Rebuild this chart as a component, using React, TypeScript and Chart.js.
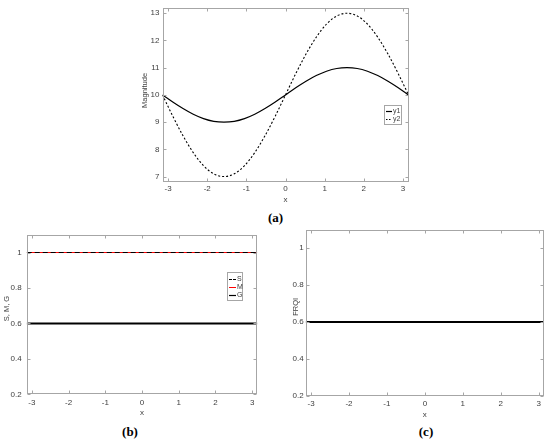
import React, { useEffect, useRef } from "react";
import { Chart, registerables } from "chart.js";

Chart.register(...registerables);

// ---------- data ----------
const X_ANGLE = [
  -3.1416, -2.8798, -2.618, -2.3562, -2.0944, -1.8326, -1.5708, -1.309, -1.0472,
  -0.7854, -0.5236, -0.2618, 0, 0.2618, 0.5236, 0.7854, 1.0472, 1.309, 1.5708,
  1.8326, 2.0944, 2.3562, 2.618, 2.8798, 3.1416,
];
const Y1_VALUES = [
  10, 9.74, 9.5, 9.29, 9.13, 9.03, 9, 9.03, 9.13, 9.29, 9.5, 9.74, 10, 10.26,
  10.5, 10.71, 10.87, 10.97, 11, 10.97, 10.87, 10.71, 10.5, 10.26, 10,
];
const Y2_VALUES = [
  10, 9.22, 8.5, 7.88, 7.4, 7.1, 7, 7.1, 7.4, 7.88, 8.5, 9.22, 10, 10.78, 11.5,
  12.12, 12.6, 12.9, 13, 12.9, 12.6, 12.12, 11.5, 10.78, 10,
];
const X_FLAT = [-3.1416, 3.1416];
const S_VALUES = [1, 1];
const M_VALUES = [1, 1];
const G_VALUES = [0.6, 0.6];
const FRQI_VALUES = [0.6, 0.6];

const X_TICKS = [-3, -2, -1, 0, 1, 2, 3];
const Y_TICKS_A = [7, 8, 9, 10, 11, 12, 13];
const Y_TICKS_BC = [0.2, 0.4, 0.6, 0.8, 1];
const X_LIMITS = [-3.1416, 3.1416];
const Y_LIMITS_A = [6.8, 13.2];
const Y_LIMITS_BC = [0.2, 1.1];

// ---------- styling ----------
const FONT = "'Liberation Sans', Arial, sans-serif";
const LABEL_COLOR = "#404040";
const FRAME_COLOR = "#a6a6a6";

const pts = (xs: number[], ys: number[]) => xs.map((x, i) => ({ x, y: ys[i] }));

const matlabFrame = {
  id: "matlabFrame",
  afterDraw(chart: any, _args: any, opts: any) {
    const { ctx, chartArea: a, scales } = chart;
    const x = scales.x;
    const y = scales.y;
    ctx.save();
    ctx.strokeStyle = FRAME_COLOR;
    ctx.lineWidth = 1;
    ctx.setLineDash([]);
    const L = Math.round(a.left) + 0.5;
    const R = Math.round(a.right) - 0.5;
    const T = Math.round(a.top) + 0.5;
    const B = Math.round(a.bottom) - 0.5;
    ctx.strokeRect(L, T, R - L, B - T);
    const len = 3;
    ctx.beginPath();
    x.ticks.forEach((t: any) => {
      const p = Math.round(x.getPixelForValue(t.value)) + 0.5;
      ctx.moveTo(p, B);
      ctx.lineTo(p, B - len);
      ctx.moveTo(p, T);
      ctx.lineTo(p, T + len);
    });
    y.ticks.forEach((t: any) => {
      const p = Math.round(y.getPixelForValue(t.value)) + 0.5;
      ctx.moveTo(L, p);
      ctx.lineTo(L + len, p);
      ctx.moveTo(R, p);
      ctx.lineTo(R - len, p);
    });
    ctx.stroke();

    // y-axis title (MATLAB ylabel)
    const yt = opts && opts.yTitle;
    if (yt) {
      ctx.save();
      ctx.translate(yt.x, (a.top + a.bottom) / 2 + yt.dy);
      ctx.rotate(-Math.PI / 2);
      ctx.font = `${yt.size}px ${FONT}`;
      ctx.fillStyle = LABEL_COLOR;
      ctx.textAlign = "center";
      ctx.textBaseline = "middle";
      ctx.fillText(yt.text, 0, 0);
      ctx.restore();
    }

    const lg = opts && opts.legend;
    if (lg) {
      const ds = chart.data.datasets;
      const h = lg.rowH * ds.length + lg.pad * 2;
      const bx = Math.round(a.right - lg.right - lg.width);
      const by = Math.round(a.top + lg.top);
      ctx.fillStyle = "#ffffff";
      ctx.fillRect(bx, by, lg.width, h);
      ctx.strokeStyle = FRAME_COLOR;
      ctx.strokeRect(bx + 0.5, by + 0.5, lg.width - 1, h - 1);
      ctx.font = `${lg.fontSize}px ${FONT}`;
      ctx.textBaseline = "middle";
      ctx.textAlign = "left";
      ds.forEach((d: any, i: number) => {
        const cy = Math.round(by + lg.pad + lg.rowH * (i + 0.5)) + 0.5;
        ctx.strokeStyle = d.borderColor;
        ctx.lineWidth = Math.min(d.borderWidth, 1.2);
        ctx.setLineDash(d.legendDash || []);
        ctx.beginPath();
        ctx.moveTo(bx + 2, cy);
        ctx.lineTo(bx + 2 + lg.sample, cy);
        ctx.stroke();
        ctx.setLineDash([]);
        ctx.fillStyle = LABEL_COLOR;
        ctx.fillText(d.label, bx + 3 + lg.sample, cy);
      });
    }
    ctx.restore();
  },
};

function makeOptions(p: {
  yTicks: number[];
  yLimits: number[];
  yTitle: any;
  yWidth: number;
  xHeight: number;
  padTop: number;
  padRight: number;
  xTickPad: number;
  yTickPad: number;
  legend?: any;
}) {
  return {
    responsive: false,
    animation: false as const,
    layout: { padding: { top: p.padTop, right: p.padRight, left: 0, bottom: 0 } },
    plugins: {
      legend: { display: false },
      tooltip: { enabled: false },
      matlabFrame: { legend: p.legend, yTitle: p.yTitle },
    },
    elements: { point: { radius: 0 } },
    scales: {
      x: {
        type: "linear" as const,
        min: X_LIMITS[0],
        max: X_LIMITS[1],
        grid: { display: false, drawTicks: false },
        border: { display: false },
        afterBuildTicks: (s: any) => {
          s.ticks = X_TICKS.map((v) => ({ value: v }));
        },
        afterFit: (s: any) => {
          s.height = p.xHeight;
        },
        ticks: {
          color: LABEL_COLOR,
          font: { family: FONT, size: 8 },
          padding: p.xTickPad,
          maxRotation: 0,
          autoSkip: false,
          callback: (v: any) => String(v),
        },
        title: {
          display: true,
          text: "x",
          color: LABEL_COLOR,
          font: { family: FONT, size: 8 },
          padding: { top: 0, bottom: 0 },
        },
      },
      y: {
        type: "linear" as const,
        min: p.yLimits[0],
        max: p.yLimits[1],
        grid: { display: false, drawTicks: false },
        border: { display: false },
        afterBuildTicks: (s: any) => {
          s.ticks = p.yTicks.map((v) => ({ value: v }));
        },
        afterFit: (s: any) => {
          s.width = p.yWidth;
        },
        ticks: {
          color: LABEL_COLOR,
          font: { family: FONT, size: 8 },
          padding: p.yTickPad,
          autoSkip: false,
          callback: (v: any) => String(v),
        },
        title: { display: false },
      },
    },
  };
}

function ChartBox(props: { left: number; top: number; width: number; height: number; config: () => any }) {
  const ref = useRef<HTMLCanvasElement | null>(null);
  useEffect(() => {
    if (!ref.current) return;
    const chart = new Chart(ref.current, props.config());
    return () => chart.destroy();
  }, []);
  return (
    <canvas
      ref={ref}
      width={props.width}
      height={props.height}
      style={{
        position: "absolute",
        left: props.left,
        top: props.top,
        width: props.width,
        height: props.height,
      }}
    />
  );
}

const configA = () => ({
  type: "line",
  data: {
    datasets: [
      {
        label: "y1",
        data: pts(X_ANGLE, Y1_VALUES),
        borderColor: "#000000",
        borderWidth: 1.2,
        cubicInterpolationMode: "monotone",
        fill: false,
      },
      {
        label: "y2",
        data: pts(X_ANGLE, Y2_VALUES),
        borderColor: "#000000",
        borderWidth: 1.1,
        borderDash: [2, 2],
        legendDash: [1.5, 1.5],
        cubicInterpolationMode: "monotone",
        fill: false,
      },
    ],
  },
  options: makeOptions({
    yTicks: Y_TICKS_A,
    yLimits: Y_LIMITS_A,
    yTitle: { text: "Magnitude", x: 5, dy: -4.5, size: 7.5 },
    yWidth: 22.5,
    xHeight: 23,
    padTop: 5,
    padRight: 6.5,
    xTickPad: 2,
    yTickPad: 3,
    legend: { right: 6.5, top: 97, width: 18, rowH: 8.5, pad: 1.5, sample: 6, fontSize: 7 },
  }),
  plugins: [matlabFrame],
});

const configB = () => ({
  type: "line",
  data: {
    datasets: [
      {
        label: "S",
        data: pts(X_FLAT, S_VALUES),
        borderColor: "#000000",
        borderWidth: 1.2,
        borderDash: [5, 3],
        legendDash: [3, 1],
        fill: false,
      },
      {
        label: "M",
        data: pts(X_FLAT, M_VALUES),
        borderColor: "#ff0000",
        borderWidth: 1,
        fill: false,
      },
      {
        label: "G",
        data: pts(X_FLAT, G_VALUES),
        borderColor: "#000000",
        borderWidth: 2,
        fill: false,
      },
    ],
  },
  options: makeOptions({
    yTicks: Y_TICKS_BC,
    yLimits: Y_LIMITS_BC,
    yTitle: { text: "S, M, G", x: 5, dy: -6, size: 7.5 },
    yWidth: 24.7,
    xHeight: 23.7,
    padTop: 4.4,
    padRight: 6.7,
    xTickPad: 4,
    yTickPad: 5,
    legend: { right: 14.3, top: 37.6, width: 16, rowH: 8, pad: 2.5, sample: 7, fontSize: 7 },
  }),
  plugins: [matlabFrame],
});

const configC = () => ({
  type: "line",
  data: {
    datasets: [
      {
        label: "FRQI",
        data: pts(X_FLAT, FRQI_VALUES),
        borderColor: "#000000",
        borderWidth: 2,
        fill: false,
      },
    ],
  },
  options: makeOptions({
    yTicks: Y_TICKS_BC,
    yLimits: Y_LIMITS_BC,
    yTitle: { text: "FRQI", x: 5, dy: -6, size: 7.5 },
    yWidth: 14.7,
    xHeight: 24.3,
    padTop: 5.2,
    padRight: 6,
    xTickPad: 3,
    yTickPad: 2,
  }),
  plugins: [matlabFrame],
});

const captionStyle = (x: number, y: number): React.CSSProperties => ({
  position: "absolute",
  left: x,
  top: y,
  transform: "translate(-50%, -50%)",
  font: "bold 13px 'Liberation Serif', 'Times New Roman', serif",
  color: "#000",
  lineHeight: 1,
  whiteSpace: "nowrap",
});

export default function App() {
  return (
    <div
      style={{
        position: "fixed",
        left: 0,
        top: 0,
        width: 550,
        height: 441,
        background: "#ffffff",
        overflow: "hidden",
      }}
    >
      <ChartBox left={140} top={0} width={275} height={205} config={configA} />
      <ChartBox left={2} top={225} width={262} height={193} config={configB} />
      <ChartBox left={291} top={223} width={259} height={197} config={configC} />
      <div style={captionStyle(275.5, 217)}>(a)</div>
      <div style={captionStyle(130, 431)}>(b)</div>
      <div style={captionStyle(426, 431)}>(c)</div>
    </div>
  );
}
